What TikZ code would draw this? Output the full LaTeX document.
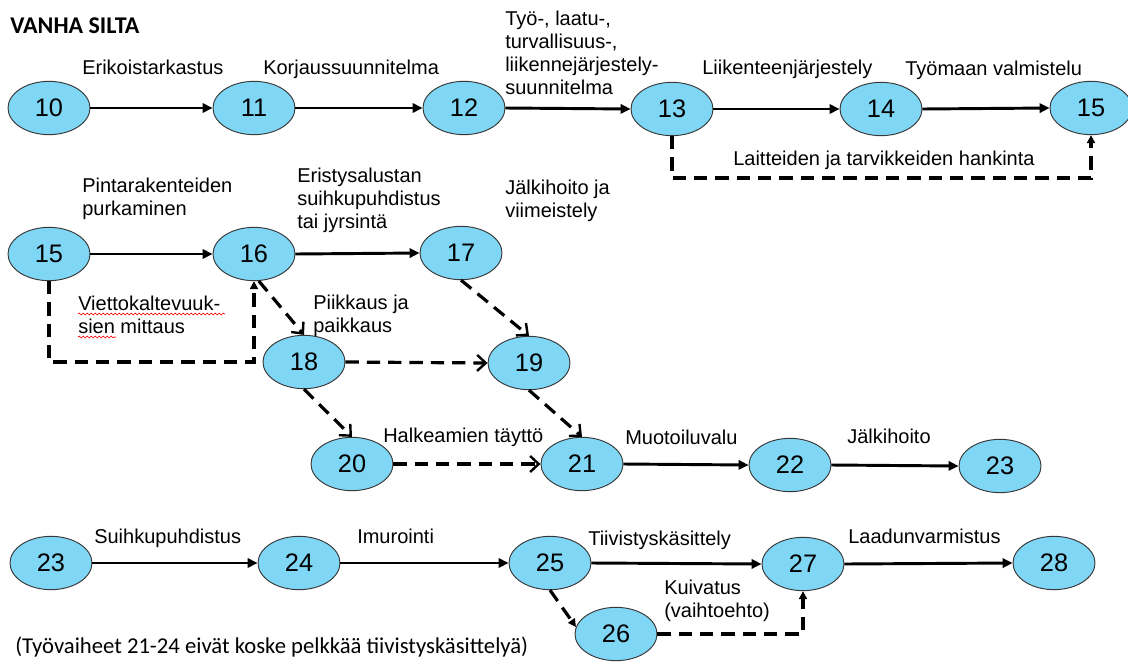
\documentclass[tikz,border=0pt]{standalone}
\usepackage{fontspec}
\setmainfont{Liberation Sans}
\newfontfamily\calib{Carlito}
\usetikzlibrary{shapes.geometric,arrows.meta,decorations.pathmorphing}
\definecolor{nodefill}{RGB}{128,214,245}
\definecolor{nodeline}{RGB}{55,55,55}
\begin{document}
\begin{tikzpicture}[x=0.75pt,y=-0.75pt,
  ev/.style={ellipse, draw=nodeline, fill=nodefill, line width=0.7pt, minimum width=61.5pt, minimum height=40pt, inner sep=0pt, font=\fontsize{19}{19}\selectfont},
  lab/.style={anchor=base west, inner sep=0pt, align=left, font=\fontsize{15}{17.25}\selectfont},
  sarrow/.style={line width=2.2pt, -{Triangle[length=7.5pt,width=7pt]}},
  dline/.style={line width=2.4pt, dash pattern=on 10pt off 6pt},
  oarrow/.style={dline, -{Straight Barb[length=6.5pt,width=12pt,line width=1.8pt]}},
  farrow/.style={dline, -{Triangle[length=6pt,width=6pt]}},
  squig/.style={red, line width=0.5pt, decorate, decoration={snake, amplitude=0.7pt, segment length=3pt}},
]
\useasboundingbox (0,0) rectangle (1128,661);

% title
\node[anchor=base west, inner sep=0pt, font=\calib\bfseries\fontsize{18}{18}\selectfont] (title) at (10,33) {VANHA SILTA};

% row 1
\node[ev] (n10) at (49,108) {10};
\node[ev] (n11) at (254,108) {11};
\node[ev] (n12) at (464,108) {12};
\node[ev] (n13) at (672,109) {13};
\node[ev] (n14) at (881,109) {14};
\node[ev] (n15a) at (1091,108) {15};

% row 2
\node[ev] (n15b) at (49,254) {15};
\node[ev] (n16) at (254,254) {16};
\node[ev] (n17) at (461,253) {17};
\node[ev] (n18) at (304,362) {18};
\node[ev] (n19) at (529,363) {19};
\node[ev] (n20) at (352,464) {20};
\node[ev] (n21) at (582,464) {21};
\node[ev] (n22) at (790,465) {22};
\node[ev] (n23a) at (1000,466) {23};

% row 4
\node[ev] (n23b) at (51,563) {23};
\node[ev] (n24) at (299,563) {24};
\node[ev] (n25) at (550,563) {25};
\node[ev] (n26) at (616,634) {26};
\node[ev] (n27) at (803,564) {27};
\node[ev] (n28) at (1054,563) {28};

% labels (multi-line labels are placed by the baseline of their last line)
\node[lab] (l1) at (82,74) {Erikoistarkastus};
\node[lab] (l2) at (263,74) {Korjaussuunnitelma};
\node[lab] (l3) at (505,94) {Työ-, laatu-,\\turvallisuus-,\\liikennejärjestely-\\suunnitelma};
\node[lab] (l4) at (702,74) {Liikenteenjärjestely};
\node[lab] (l5) at (905,75) {Työmaan valmistelu};
\node[lab] (l6) at (733,165) {Laitteiden ja tarvikkeiden hankinta};
\node[lab] (l7) at (82,215) {Pintarakenteiden\\purkaminen};
\node[lab] (l8) at (297,228) {Eristysalustan\\suihkupuhdistus\\tai jyrsintä};
\node[lab] (l9) at (505,217) {Jälkihoito ja\\viimeistely};
\node[lab] (l10) at (78,333) {Viettokaltevuuk-\\sien mittaus};
\node[lab] (l11) at (313,332) {Piikkaus ja\\paikkaus};
\node[lab] (l12) at (383,442) {Halkeamien täyttö};
\node[lab] (l13) at (625,444) {Muotoiluvalu};
\node[lab] (l14) at (847,443) {Jälkihoito};
\node[lab] (l15) at (94,543) {Suihkupuhdistus};
\node[lab] (l16) at (357,543) {Imurointi};
\node[lab] (l17) at (588,545) {Tiivistyskäsittely};
\node[lab] (l18) at (664,617) {Kuivatus\\(vaihtoehto)};
\node[lab] (l19) at (848,543) {Laadunvarmistus};
\node[anchor=base west, inner sep=0pt, font=\calib\fontsize{17}{17}\selectfont] (note) at (15,653) {(Työvaiheet 21-24 eivät koske pelkkää tiivistyskäsittelyä)};

% spell-check squiggles
\coordinate (sq1a) at (78,314);
\coordinate (sq1b) at (225,314);
\coordinate (sq2a) at (78,337);
\coordinate (sq2b) at (116,337);
\draw[squig] (sq1a) -- (sq1b);
\draw[squig] (sq2a) -- (sq2b);

% solid arrows
\draw[sarrow] (n10.east) -- (n11.west);
\draw[sarrow] (n11.east) -- (n12.west);
\draw[sarrow] (n12.east) -- (n13.west);
\draw[sarrow] (n13.east) -- (n14.west);
\draw[sarrow] (n14.east) -- (n15a.west);
\draw[sarrow] (n15b.east) -- (n16.west);
\draw[sarrow] (n16.east) -- (n17.west);
\draw[sarrow] (n21.east) -- (n22.west);
\draw[sarrow] (n22.east) -- (n23a.west);
\draw[sarrow] (n23b.east) -- (n24.west);
\draw[sarrow] (n24.east) -- (n25.west);
\draw[sarrow] (n25.east) -- (n27.west);
\draw[sarrow] (n27.east) -- (n28.west);

% dashed connectors
\coordinate (y1) at (0,178);
\coordinate (y2) at (0,362);
\draw[farrow] (n13.south) -- (n13.south |- y1) -| (n15a.south);
\draw[farrow] (n15b.south) -- (n15b.south |- y2) -| (n16.south);
\draw[oarrow] (n16.-80) -- (n18.north);
\draw[oarrow] (n17.south) -- (n19.north);
\draw[oarrow] (n18.east) -- (n19.west);
\draw[oarrow] (n18.south) -- (n20.north);
\draw[oarrow] (n19.south) -- (n21.north);
\draw[oarrow] (n20.east) -- (n21.west);
\draw[farrow] (n25.south) -- (n26.170);
\draw[farrow] (n26.east) -| (n27.south);
\end{tikzpicture}
\end{document}
